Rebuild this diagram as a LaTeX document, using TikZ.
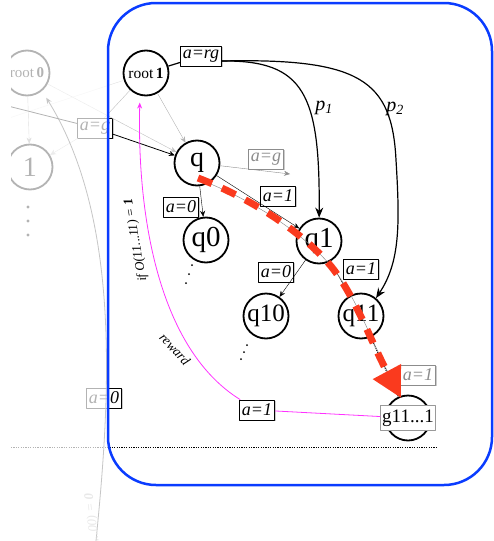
\documentclass[tikz,border=0pt]{standalone}
\usepackage{fontspec}
\setmainfont{Liberation Serif}
\usetikzlibrary{arrows.meta,shadows}
\definecolor{boxblue}{RGB}{10,60,255}
\definecolor{pathred}{RGB}{250,58,30}
\definecolor{rewpink}{RGB}{255,50,255}
\newcommand{\fs}[1]{\fontsize{#1}{#1}\selectfont}
\begin{document}
\begin{tikzpicture}[x=1pt,y=-1pt,>={Stealth[length=6pt,width=5pt]},line join=round,
	state/.style={circle,draw,line width=1.8pt,minimum size=45pt,inner sep=0pt,fill=white},
	lab/.style={draw,fill=white,line width=0.7pt,inner xsep=2.5pt,inner ysep=1pt,minimum height=20pt,font=\fs{18}\itshape,
		drop shadow={shadow xshift=1.2pt,shadow yshift=-1.2pt,fill=black!40}},
	greylab/.style={lab,draw=black!45,text=black!45},
	bigtip/.style={>={Stealth[length=10pt,width=8pt]}}]
	\useasboundingbox (0,0) rectangle (493,541);
	\begin{scope}
		\clip (11,0) rectangle (493,541);
		% states
		\node[state,font=\fs{15}] (root0) at (27,73) {root\,\textbf{0}};
		\node[state,font=\fs{28}] (n1) at (30,167) {1};
		\node[state,font=\fs{15.5}] (root1) at (146,73) {root\,\textbf{1}};
		\node[state,font=\fs{28}] (q) at (197,163) {q};
		\node[state,font=\fs{29}] (q0) at (206,240) {q0};
		\node[state,font=\fs{29}] (q1) at (319,241) {q1};
		\node[state,font=\fs{25}] (q10) at (266,316) {q10};
		\node[state,font=\fs{25}] (q11) at (361,316) {q11};
		\node[state] (g) at (408,418) {};
		\node[draw=black!40,fill=white,line width=0.7pt,inner xsep=1.5pt,inner ysep=4pt,font=\fs{19}] (gl) at (408,418) {g11...1};
		% labels
		\node[lab] (arg) at (201,56) {a=rg};
		\node[lab] (ag1) at (95,128) {a=g};
		\node[lab] (a0) at (181,207) {a=0};
		\node[lab] (a1) at (278,196) {a=1};
		\node[greylab] (lqg) at (266,159) {a=g};
		\node[lab] (a10) at (276,272) {a=0};
		\node[lab] (a11) at (361,269) {a=1};
		\node[greylab] (lg) at (418,375) {a=1};
		\node[lab] (rw1) at (257,410) {a=1};
		\node[lab] (la0) at (104,398) {a=0};
		\coordinate (lft) at (0,104);
		\coordinate (lft2) at (0,121);
		\coordinate (qg) at (290,174);
		\coordinate (b0) at (96,541);
		\coordinate (dl) at (11,447);
		\coordinate (dr) at (438,447);
		% faded edges
		\draw[black!40,->] (root0) -- (n1);
		\draw[black!25,->] (root0) -- (q);
		\draw[black!30,->] (root1) -- (q);
		\draw[black!25] (root1) -- (ag1);
		\draw[black!25,->] (ag1) -- (n1);
		\draw[black!12] (lft2) -- (root1);
		\draw[black!45,->] (q) -- (qg);
		\foreach \y in {207,221,235}
			\fill (28,\y) circle (1.6pt);
		\draw[line width=0.8pt,black!75,->,shorten >=8pt] (b0) .. controls (110,400) and (122,220) .. (root0.-50);
		\node[rotate=97,anchor=east,font=\fs{13}\itshape,black!30] (lif0) at (89,490) {if O(00...00) = \textbf{0}};
		% edges
		\draw[line width=0.8pt] (lft) -- (ag1);
		\draw[line width=0.8pt,->] (ag1) -- (q);
		\draw[line width=1.2pt] (root1) -- (arg);
		\draw[line width=1.2pt,bigtip,->] ([yshift=-5pt]arg.east) .. controls (305,60) and (320,95) .. (q1);
		\draw[line width=1.2pt,bigtip,->] ([yshift=-5pt]arg.east) .. controls (360,58) and (392,80) .. (396,160) .. controls (400,225) and (400,262) .. (q11.50);
		\node[font=\fs{20}\itshape] (lp1) at (324,108) {p\textsubscript{1}};
		\node[font=\fs{20}\itshape] (lp2) at (395,109) {p\textsubscript{2}};
		\draw[->] (q) -- (q0);
		\draw[->] (q) -- (q1);
		\draw[->] (q1) -- (q10);
		\draw[->] (q1) -- (q11);
		\draw[line width=1pt,densely dotted] (q11) -- (g);
		\foreach \p in {(192,265),(189,274),(186,283),(247,345),(244,352),(241,359)}
			\fill \p circle (1pt);
		\draw[dash pattern=on 1.2pt off 1.2pt,line width=1pt] (dl) -- (dr);
		% reward
		\draw[rewpink,line width=0.8pt,->,shorten >=7pt] (gl) -- (rw1) .. controls (160,350) and (137,220) .. (root1.-105);
		\node[rotate=100,font=\fs{13}\itshape] (lif) at (136,240) {if O(11...11) = \textbf{1}};
		\node[rotate=-47,font=\fs{13.5}\itshape] (lrew) at (175,349) {reward};
		% path
		\draw[pathred,line width=7pt,dash pattern=on 15pt off 11pt,-{Triangle[length=30pt,width=30pt]},
			preaction={draw=black!50,transform canvas={shift={(1.5pt,-1.5pt)}}}]
			(198,178) .. controls (250,198) and (300,230) .. (330,265) .. controls (355,295) and (370,340) .. (401,398);
		% fade
		\fill[white,fill opacity=0.7,even odd rule] (11,0) rectangle (493,541) [rounded corners=48pt] (108,3) rectangle (492,485);
	\end{scope}
	\draw[boxblue,line width=2.5pt,rounded corners=48pt] (108,3) rectangle (492,485);
\end{tikzpicture}
\end{document}
